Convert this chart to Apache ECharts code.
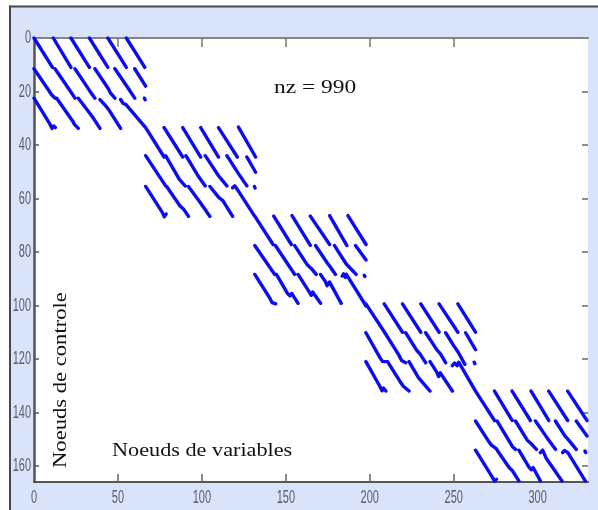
<!DOCTYPE html>
<html><head><meta charset="utf-8">
<style>html,body{margin:0;padding:0;background:#fff}#c{width:598px;height:510px;filter:blur(0.45px)}</style>
<script src="https://cdn.jsdelivr.net/npm/echarts@6/dist/echarts.min.js"></script>
</head><body><div id="c"></div>
<script>
var xLabelValues=[0,50,100,150,200,250,300];
var xTickValues=[50,100,150,200,250];
var yLabelValues=[0,20,40,60,80,100,120,140,160];
var yTickValues=[20,40,60,80,100,120,140,160];
var annotation="nz = 990", xTitle="Noeuds de variables", yTitle="Noeuds de controle";
// each stroke: x,y,x,y,... in matrix columns/rows
var block1=[
[0,0,11,11],[11.5,0,22,11],[22,0,33,11],[33,0,44,11],[44,0,55,11],[55,0,66,11],
[0,11.5,9,19.8,10.5,21.2,12.5,22.5],[12.5,11.5,22,20.2,24.4,22.5],[24.4,11.5,33,19.6,36.3,22.5],[36.3,11.5,44,18.7,45.5,20.5,48.2,22.5],[48.2,11.5,56,18.7,60,22.5],[60,11.5,66.5,18],[65.8,22.5,66.2,23.1],
[0,22.5,9.5,32.2,10.8,33.8,11.7,32.9,12.7,33.5],[13.5,22.5,23,31,24.2,32.4,26.4,33.8],[26.4,22.5,34,28.8,36,30.6,39.3,33.8],[39.3,23,43,25.6,44.5,26.8,51.6,33.8],[51.6,23,53,24.4,54.8,24.9,66.5,33.5]];
var block2=[
[66.5,33.5,77.5,44.5],[77.5,33.5,88.6,44.5],[88.6,33.5,99.3,44.5],[99.3,33.5,109.9,44.5],[109.9,33.5,121.1,44.5],[121.8,33.3,132,44.5],
[66.5,44,78.4,55.3],[78.4,44,86.5,52.8,90,55.3],[90.5,44,98,51.8,102,55.3],[102,44,110,51.6,114.9,55.3],[114.9,44,122,50.9,126.8,55.3],[126.8,44.5,132,50.2],[131.3,55.5,131.7,56.1],
[66.5,55.5,76.5,65.3,77.6,66.8,78.7,65.8],[79,55.5,87,62.8,89,63.9,92,66.7],[92,55.5,99,61.5,101,63.3,104.8,66.7],[104.8,55.5,110,59.6,112.5,60.8,118.3,66.7],[118.3,56,119.5,55.3,121,56.5,131.5,66.7]];
var block3=[
[131.5,66.6,142.4,77.2],[142.8,66.6,153.3,77.2],[153.7,66.4,164.6,77.5],[164.6,66.6,176.1,77.2],[176.1,66.4,186.4,77.6],[187,66.4,197.8,77.2],
[131.5,77.6,143.4,88.4],[143.8,77.6,155.3,88.4],[155.3,77.6,163,85,165.5,86.4,168.1,88.4],[167.7,77.6,175,84.4,176.5,85.6,179.6,88.4],[179,77.6,186,84.5,191.9,88.4],[191.5,77.6,197.8,83],[196.7,88.7,197.1,89.2],
[131.5,88.4,140.5,97.3,141.8,98.9,142.8,98.2,144,99.4],[144.4,88.4,151,95.5,152.5,96.4,153.5,95.5,157.3,99.2],[157.3,88.4,164,95,165.2,96.2,166,95,170.7,99.2],[170.7,88.4,173.5,91,174.5,92.6,176,91.2,183,99.2],[183.6,89,184.4,88.2,185.5,89.5,186,88.3,197.8,100.2]];
var block4=[
[197.7,99.4,209,110.2],[208.6,99.4,219.5,110],[219.5,99.4,230.4,110],[230.4,99.4,241.3,110],[241.3,99.4,252.5,110],[252.5,99.4,263,110],
[197.7,110.2,206,119.4,207.5,120.9,209.6,121],[209,110.2,217,118.2,219,120.6,221.4,121.4],[221.4,110.2,228,116.8,230,118.2,233.3,121.4],[233.3,110.2,240,116.6,242,118,245.2,121.4],[245.2,110.2,250,115,252.5,117.3,256.7,122],[257.1,110.2,263,116.5],[262.2,121.2,262.6,121.8],
[197.7,121,206,130.2,207.3,131.9,208.2,130.9,209.6,132],[210.6,121,218,128.4,220,130.2,221,129.7,223.4,132],[223.4,121,229,127,230,126.8,235.9,132],[235.9,121,240,125,241,126.6,242,125.2,249.2,132],[249.2,122.5,250.5,121.5,252,122.5,253,121.2,263,132]];
var block5=[
[263,132,274.3,143],[274.3,132,284.8,143],[284.8,132,295.7,143],[296.1,132,306.6,143],[306.6,132,317.9,143],[317.9,132,329.4,143],
[263,143.2,271,151,272.5,152.2,275.5,153.6],[275.9,143.2,283.5,151.2,285,152.8,286.8,153.8],[286.8,143.2,294,150.5,296,151.6,299.3,153.8],[298.7,143.2,304,148,306,149.8,310.6,153.8],[310.6,143.2,316,148.6,318,150,323,153.8],[323,143.2,329.4,148.8],[328.2,154.4,328.6,155],
[263,154.1,273,164.2,274.3,165.7,275.5,165],[275.9,154.1,283,160.6,285,161.8,288.8,165.6],[288.8,154.1,295,160.6,296.3,161.4,297.3,160.6,301.6,165.6],[301.6,155,303,154.1,305,157,306,156.6,314.5,165.6],[314.9,155,316,154.2,318,155,328.4,165.6]];

var strokes=[block1,block2,block3,block4,block5];
var lineData=[];
strokes.forEach(function(b){b.forEach(function(s){
  for(var i=0;i<s.length;i+=2) lineData.push([s[i],s[i+1]]);
  lineData.push(['-','-']);
});});
var L=34,T=38,R=588,B=482;
var chart=echarts.init(document.getElementById('c'),null,{renderer:'canvas'});
function serifText(t,x,y,scale,rot){return {type:'text',z:10,x:x,y:y,scaleX:scale,rotation:rot||0,
  style:{text:t,fill:'#111',font:'19.5px "Liberation Serif"',textAlign:'left',textVerticalAlign:'middle'}};}
var commonAxis={axisLabel:{show:false},splitLine:{show:false}};
chart.setOption({
  animation:false,
  backgroundColor:'#fff',
  grid:{left:L,top:T,width:R-L,height:B-T,show:true,backgroundColor:'#fff',borderWidth:0},
  xAxis:[
   Object.assign({type:'value',position:'bottom',min:0,max:330,interval:50,
    axisLine:{show:true,onZero:false,lineStyle:{color:'#555',width:2}},
    axisTick:{show:true,inside:true,length:8,customValues:xTickValues,lineStyle:{color:'#666',width:1.5}}},commonAxis),
   Object.assign({type:'value',position:'top',min:0,max:330,interval:50,
    axisLine:{show:true,onZero:false,lineStyle:{color:'#858585',width:2}},
    axisTick:{show:true,inside:true,length:9,customValues:xTickValues,lineStyle:{color:'#777',width:1.5}}},commonAxis)],
  yAxis:[
   Object.assign({type:'value',position:'left',inverse:true,min:0,max:166,interval:20,
    axisLine:{show:true,onZero:false,lineStyle:{color:'#555',width:2.5}},
    axisTick:{show:true,inside:true,length:5,customValues:yTickValues,lineStyle:{color:'#555',width:1.5}}},commonAxis),
   Object.assign({type:'value',position:'right',inverse:true,min:0,max:166,interval:20,
    axisLine:{show:false,onZero:false},
    axisTick:{show:true,inside:true,length:6,customValues:yTickValues,lineStyle:{color:'#666',width:1.5}}},commonAxis)],
  graphic:[],
  series:[{type:'line',xAxisIndex:0,yAxisIndex:0,data:lineData,connectNulls:false,showSymbol:false,symbol:'none',
    z:5,lineStyle:{color:'#0b0bf5',width:3.4,cap:'round',join:'round'}}]
});
// tick labels: tall, narrow digits placed through the axes' own scales
function tickText(v,px,py,align){return {type:'text',z:10,x:px,y:py,scaleY:1.7,silent:true,
  style:{text:String(v),fill:'#5a6068',font:'11px "Liberation Sans"',textAlign:align,textVerticalAlign:'middle'}};}
var els=[
   {type:'rect',z:-10,silent:true,shape:{x:9,y:6,width:589,height:504},style:{fill:'#d9e4fb'}},
   {type:'rect',z:-9,silent:true,shape:{x:9,y:5.5,width:589,height:2},style:{fill:'#484848'}},
   {type:'rect',z:-9,silent:true,shape:{x:9,y:5.5,width:2,height:505},style:{fill:'#484848'}},
   serifText(annotation,274,88,1.2),
   serifText(xTitle,112,451,1.14),
   serifText(yTitle,60.5,468,1.16,Math.PI/2)];
xLabelValues.forEach(function(v){els.push(tickText(v,chart.convertToPixel({xAxisIndex:0},v),498,'center'));});
yLabelValues.forEach(function(v){els.push(tickText(v,31,chart.convertToPixel({yAxisIndex:0},v),'right'));});
chart.setOption({graphic:els});
</script></body></html>
